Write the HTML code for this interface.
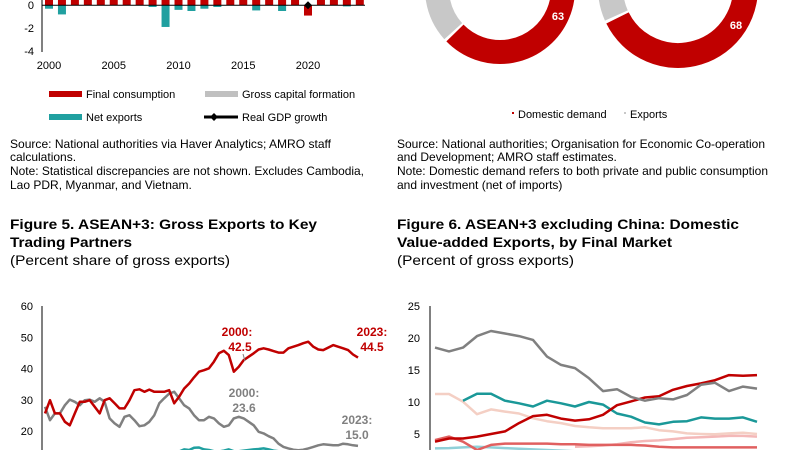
<!DOCTYPE html>
<html><head><meta charset="utf-8"><style>
html,body{margin:0;padding:0;background:#fff;width:789px;height:450px;overflow:hidden}
svg{display:block;font-family:"Liberation Sans",Arial,sans-serif}
</style></head><body>
<svg id="root" width="789" height="450" viewBox="0 0 789 450">
<!-- Figure 3 (bars) -->
<g id="bars"></g>
<g font-size="11" fill="#000">
<text x="34" y="9" text-anchor="end">0</text>
<text x="34" y="32" text-anchor="end">-2</text>
<text x="34" y="55" text-anchor="end">-4</text>
</g>
<g id="barYears" font-size="11"></g>
<g font-size="11">
<rect x="49" y="91" width="33" height="6" fill="#c00000"/>
<text x="86" y="98">Final consumption</text>
<rect x="205" y="91" width="33" height="6" fill="#c0c0c0"/>
<text x="242" y="98">Gross capital formation</text>
<rect x="49" y="114" width="33" height="6" fill="#20a0a0"/>
<text x="86" y="121">Net exports</text>
<line x1="204" y1="117" x2="238" y2="117" stroke="#000" stroke-width="3"/>
<path d="M210 117 l4 -4 l4 4 l-4 4z" fill="#000"/>
<text x="242" y="121">Real GDP growth</text>
</g>
<!-- donuts -->
<g id="donuts"></g>
<g font-size="11">
<rect x="512" y="112" width="2" height="2" fill="#c00000"/>
<text x="518" y="118">Domestic demand</text>
<rect x="624" y="112" width="2" height="2" fill="#c8c8c8"/>
<text x="630" y="118">Exports</text>
</g>
<!-- notes -->
<g font-size="12" fill="#000">
<text x="10" y="148" textLength="321" lengthAdjust="spacingAndGlyphs">Source: National authorities via Haver Analytics; AMRO staff</text>
<text x="10" y="161">calculations.</text>
<text x="10" y="175" textLength="354" lengthAdjust="spacingAndGlyphs">Note: Statistical discrepancies are not shown. Excludes Cambodia,</text>
<text x="10" y="189">Lao PDR, Myanmar, and Vietnam.</text>
</g>
<g font-size="12" fill="#000">
<text x="397" y="148" textLength="368" lengthAdjust="spacingAndGlyphs">Source: National authorities; Organisation for Economic Co-operation</text>
<text x="397" y="161">and Development; AMRO staff estimates.</text>
<text x="397" y="175" textLength="371" lengthAdjust="spacingAndGlyphs">Note: Domestic demand refers to both private and public consumption</text>
<text x="397" y="189">and investment (net of imports)</text>
</g>
<g font-size="14">
<text x="10" y="229" font-weight="bold" textLength="307" lengthAdjust="spacingAndGlyphs">Figure 5. ASEAN+3: Gross Exports to Key</text>
<text x="10" y="247" font-weight="bold" textLength="122" lengthAdjust="spacingAndGlyphs">Trading Partners</text>
<text x="10" y="265" textLength="220" lengthAdjust="spacingAndGlyphs">(Percent share of gross exports)</text>
</g>
<g font-size="14">
<text x="397" y="229" font-weight="bold" textLength="342" lengthAdjust="spacingAndGlyphs">Figure 6. ASEAN+3 excluding China: Domestic</text>
<text x="397" y="247" font-weight="bold" textLength="275" lengthAdjust="spacingAndGlyphs">Value-added Exports, by Final Market</text>
<text x="397" y="265" textLength="177" lengthAdjust="spacingAndGlyphs">(Percent of gross exports)</text>
</g>
<g id="fig5"></g>
<g id="fig6"></g>
</svg>
<script>
const NS='http://www.w3.org/2000/svg';
function mk(p,t,a){const e=document.createElementNS(NS,t);for(const k in a)e.setAttribute(k,a[k]);p.appendChild(e);return e;}

// ---- Bar chart data ----
const barYears=[2000,2001,2002,2003,2004,2005,2006,2007,2008,2009,2010,2011,2012,2013,2014,2015,2016,2017,2018,2019,2020,2021,2022,2023,2024];
const finalConsumption=[4,4,4,4,4,4,4,4,4,4,4,4,4,4,4,4,4,4,4,4,-0.9,4,4,4,4];
const netExports=[-0.3,-0.8,0,0,0,0,0,0,-0.15,-1.9,-0.4,-0.5,-0.3,-0.15,0,0,-0.45,0,-0.5,0,0,0,0,-0.1,0];
const gdpGrowth=[5,3,4,4,5,4,5,5,3,1,6,4,4,4,3,3,3,4,3,3,0,5,4,4,4];
const bx=i=>49+i*12.95, by=v=>5.3-v*11.4;
const bars=document.getElementById('bars');
barYears.forEach((yr,i)=>{
  const fc=finalConsumption[i];
  let r=mk(bars,'rect',{x:bx(i)-4,y:Math.min(by(fc),by(0)),width:8,height:Math.abs(by(fc)-by(0)),fill:'#c00000'});
  
  
  const ne=netExports[i];
  if(ne<0){
    const base=fc<0?fc:0;
    r=mk(bars,'rect',{x:bx(i)-4,y:by(base),width:8,height:Math.abs(by(base+ne)-by(base)),fill:'#20a0a0'});
    
    
  }
});
let ax=mk(bars,'line',{x1:42,y1:0,x2:42,y2:52,stroke:'#000','stroke-width':1});


ax=mk(bars,'line',{x1:42,y1:5.3,x2:365,y2:5.3,stroke:'#000','stroke-width':1});


gdpGrowth.forEach((v,i)=>{
  const y=by(v);
  const d=mk(bars,'path',{d:`M${bx(i)-4} ${y} l4 -4 l4 4 l-4 4z`,fill:'#000'});
  
  
});
const yg=document.getElementById('barYears');
[2000,2005,2010,2015,2020].forEach(y=>{
  const t=mk(yg,'text',{x:bx(barYears.indexOf(y)),y:69,'text-anchor':'middle'});
  t.textContent=y;
  
  
});

// ---- Donuts ----
const donutShares=[63,68];
const donutGeo=[{cx:500,cy:-11,r:63,w:24,lx:558,ly:20},{cx:678,cy:-12,r:67.5,w:25,lx:736,ly:29}];
const dg=document.getElementById('donuts');
function arc(cx,cy,r,a0,a1){const p=a=>[cx+r*Math.sin(a),cy-r*Math.cos(a)];const s=p(a0),e=p(a1);const lg=(a1-a0)>Math.PI?1:0;return `M${s[0]} ${s[1]} A${r} ${r} 0 ${lg} 1 ${e[0]} ${e[1]}`;}
donutShares.forEach((s,i)=>{
  const g=donutGeo[i];const a=s/100*2*Math.PI;
  let p=mk(dg,'path',{d:arc(g.cx,g.cy,g.r,0.02,a-0.02),stroke:'#c00000','stroke-width':g.w,fill:'none'});
  
  
  p=mk(dg,'path',{d:arc(g.cx,g.cy,g.r,a+0.02,2*Math.PI-0.02),stroke:'#c8c8c8','stroke-width':g.w,fill:'none'});
  
  
  const t=mk(dg,'text',{x:g.lx,y:g.ly,fill:'#fff','font-size':11,'font-weight':'bold','text-anchor':'middle'});
  t.textContent=s;
  
  
});

// ---- Figure 5 ----
const f5Ticks=[60,50,40,30,20];
const f5Red=[25.7,29.9,25.7,25.7,23,21.9,25.7,29.4,29.4,29.9,27.8,25.7,29.9,30.5,28.9,27.3,27.3,29.9,33.1,33.4,32.6,33.3,32.6,32.6,32.6,33.1,28.9,31,33.6,35.2,37.2,39,39.5,40.1,42.2,44.9,45.7,44.3,39,40.6,42.7,43.8,44.9,46.1,46.5,46.1,45.6,45.1,45.1,46.5,47,47.5,48.1,48.6,47,46.1,45.9,46.7,47.5,47,46.5,45.9,44.5,43.5];
const f5Gray=[27.8,23.5,25.7,25.7,28.3,30.1,29.4,28.3,29.9,30.1,29.4,30.5,29.4,24.1,22.5,21.4,24.6,25.1,23.5,21.6,21.9,23,25.1,28.9,30.5,32,32.6,30.5,28.3,27.3,25.1,23.5,23.5,24.6,24.1,22.5,21.4,21.9,24.1,24.6,24.1,23,21.9,19.8,19.3,18.4,17.7,16,15,14.5,14.1,13.9,14.1,14.5,15,15.5,15.8,15.7,15.5,15.5,16,15.8,15.5,15.3];
const f5Teal=[12,12,12.5,12.5,12.5,12.5,12.5,13,13,13,13,13,13,13,13,13,13,13,13,13,13,13,13,13,13,13,13,13.5,14.2,14,14.7,14.8,14.2,14,13.6,13.5,13.8,14.2,13.6,13.6,13.8,14,14.2,14.3,14.5,14.2,13.8,13.6,13.5,13,12.8,12.5,12.5,12.5,12.5,12.5,12.5,12.5,12.5,12.5,12.5,12.5,12.5,12.5];
const f5x=i=>45+i*(358-45)/63, f5y=v=>306+(60-v)*3.13;
const f5=document.getElementById('fig5');
ax=mk(f5,'line',{x1:42,y1:306,x2:42,y2:450,stroke:'#000'});


f5Ticks.forEach(v=>{const t=mk(f5,'text',{x:33,y:f5y(v)+4,'font-size':11,'text-anchor':'end'});t.textContent=v;

});
function line(g,arr,xf,yf,col,w,name,start){
  let d='';arr.forEach((v,i)=>{if(v==null)return;d+=(d?'L':'M')+xf(i+(start||0)).toFixed(1)+' '+yf(v).toFixed(1)+' ';});
  const p=mk(g,'path',{d:d,fill:'none',stroke:col,'stroke-width':w,'stroke-linejoin':'round'});
  
  
}
line(f5,f5Teal,f5x,f5y,'#20a0a0',2.5,'fig5-line-teal');
line(f5,f5Gray,f5x,f5y,'#808080',2.5,'fig5-line-gray');
line(f5,f5Red,f5x,f5y,'#c00000',2.5,'fig5-line-red');
const f5Notes=[[237,332,'2000:','#c00000'],[240,347,'42.5','#c00000'],[372,332,'2023:','#c00000'],[372,347,'44.5','#c00000'],[244,393,'2000:','#808080'],[244,408,'23.6','#808080'],[357,420,'2023:','#808080'],[357,435,'15.0','#808080']];
f5Notes.forEach((n,i)=>{const t=mk(f5,'text',{x:n[0],y:n[1]+4,fill:n[3],'font-size':12,'font-weight':'bold','text-anchor':'middle'});t.textContent=n[2];

});
ax=mk(f5,'line',{x1:243,y1:354,x2:245,y2:361,stroke:'#808080'});



// ---- Figure 6 ----
const f6Ticks=[25,20,15,10,5];
const f6Gray=[18.5,17.9,18.5,20.3,21.1,20.7,20.3,19.7,17.1,15.8,15.3,13.7,11.7,12,10.8,10.2,10.6,10.4,11.1,12.7,13,11.7,12.4,12.1];
const f6DarkRed=[3.8,4.3,4.3,4.6,5,5.4,6.7,7.8,8,7.4,7.1,7.3,8,9.5,10.1,10.7,10.9,11.9,12.5,12.9,13.4,14.2,14.1,14.2];
const f6Teal=[null,null,10.2,11.3,11.3,10.2,9.8,9.3,10.2,9.8,9.3,10,9.6,8.2,7.7,6.8,6.5,6.9,7,7.6,7.4,7.4,7.6,6.9];
const f6Peach=[11.25,11.25,10.05,8.1,8.85,8.5,8.2,7.45,7,6.7,6.25,6.05,5.9,5.9,5.9,6.05,5.6,5.4,5.1,5,4.95,5.1,5.2,5];
const f6Salmon=[4.05,4.6,3.8,2.5,3.3,3.5,3.5,3.5,3.5,3.4,3.4,3.3,3.3,3.3,3.3,3.2,3.0,2.9,2.9,2.9,2.9,2.9,2.9,2.9];
const f6LightPink=[null,null,null,null,null,null,null,null,null,null,3.0,3.1,3.2,3.4,3.7,3.9,4.0,4.2,4.4,4.5,4.6,4.7,4.7,4.6];
const f6LightTeal=[2.75,2.8,2.9,3.0,2.9,2.8,2.7,2.6,2.5,2.4,2.3,2.2,2.1,2.0,2.0,2.0,2.0,2.0,2.0,2.0,2.0,2.0,2.0,2.0];
const f6x=i=>435+i*(757-435)/23, f6y=v=>306+(25-v)*6.4;
const f6=document.getElementById('fig6');
ax=mk(f6,'line',{x1:430,y1:306,x2:430,y2:450,stroke:'#000'});


f6Ticks.forEach(v=>{const t=mk(f6,'text',{x:420,y:f6y(v)+4,'font-size':11,'text-anchor':'end'});t.textContent=v;

});
line(f6,f6LightTeal,f6x,f6y,'#90d0d8',2.5,'fig6-line-light-teal');
line(f6,f6LightPink,f6x,f6y,'#f4b8b8',2.5,'fig6-line-light-pink');
line(f6,f6Salmon,f6x,f6y,'#e06060',2.5,'fig6-line-salmon');
line(f6,f6Peach,f6x,f6y,'#f4cfc4',2.5,'fig6-line-peach');
line(f6,f6Teal,f6x,f6y,'#1a9898',2.5,'fig6-line-teal');
line(f6,f6DarkRed,f6x,f6y,'#c00000',2.5,'fig6-line-dark-red');
line(f6,f6Gray,f6x,f6y,'#808080',2.5,'fig6-line-gray');
</script>
</body></html>
